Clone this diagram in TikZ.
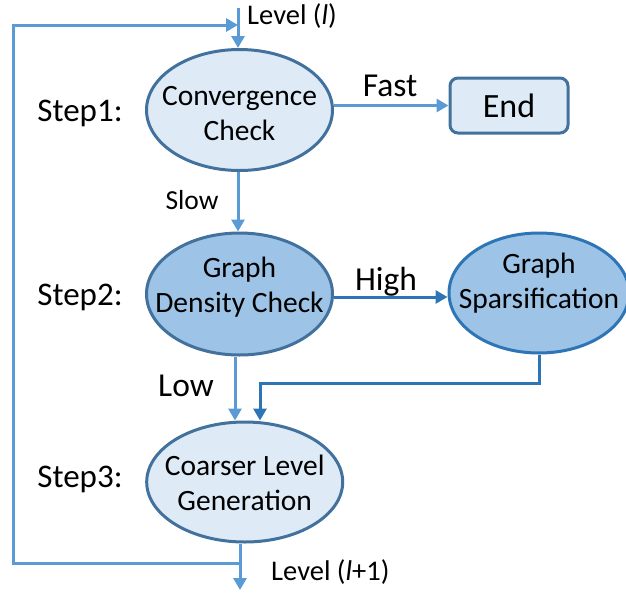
\documentclass[tikz,border=0pt]{standalone}
\usepackage{fontspec}
\setmainfont{Carlito}
\usetikzlibrary{arrows.meta,shapes.geometric}
\definecolor{lightfill}{HTML}{DEEBF7}
\definecolor{midfill}{HTML}{9DC3E6}
\definecolor{edgeblue}{HTML}{41719C}
\definecolor{flowblue}{HTML}{5B9BD5}
\definecolor{deepblue}{HTML}{2E75B6}
\tikzset{
  proc/.style={ellipse, draw=edgeblue, line width=3pt, inner sep=0pt},
  txt/.style={align=center, font=\fontsize{29.5}{35}\selectfont, inner sep=0pt},
  steplbl/.style={font=\fontsize{33}{39}\selectfont, inner sep=0pt},
  edgelbl/.style={font=\fontsize{33.5}{40}\selectfont, inner sep=0pt},
  lvllbl/.style={font=\fontsize{28.5}{34}\selectfont, inner sep=0pt, anchor=west},
  flow/.style={draw=flowblue, line width=3pt, -{Triangle[length=12pt,width=13pt]}},
  deepflow/.style={draw=deepblue, line width=3pt, -{Triangle[length=12pt,width=13pt]}}
}
\begin{document}
\begin{tikzpicture}[x=1pt,y=-1pt]
\useasboundingbox (0,0) rectangle (626,592);

% process ellipses
\node[proc, fill=lightfill, minimum width=186pt, minimum height=121pt] (conv) at (239.5,110) {};
\node[txt] (convT) at (239.5,114) {Convergence\\Check};

\node[proc, fill=midfill, minimum width=186pt, minimum height=122pt] (dens) at (239.5,294) {};
\node[txt] (densT) at (239.5,287) {Graph\\Density Check};

\node[proc, draw=deepblue, fill=midfill, minimum width=180pt, minimum height=120pt] (spars) at (539,293) {};
\node[txt] (sparsT) at (539,283) {Graph\\Sparsification};

\node[proc, fill=lightfill, minimum width=196pt, minimum height=120pt] (coarse) at (244.7,482) {};
\node[txt] (coarseT) at (244.7,483) {Coarser Level\\Generation};

% terminal box
\node[draw=edgeblue, fill=lightfill, line width=3pt, rounded corners=8pt,
      minimum width=118pt, minimum height=55pt, font=\fontsize{34}{40}\selectfont] (fin) at (509,105.5) {End};

% step labels
\node[steplbl] (s1) at (80,113) {Step1:};
\node[steplbl] (s2) at (80,297) {Step2:};
\node[steplbl] (s3) at (80,479) {Step3:};

% loop-back and level connectors
\coordinate (topin) at (238,8);
\coordinate (loopTR) at (238,25);
\coordinate (loopTL) at (13,25);
\coordinate (loopBL) at (13,563);
\coordinate (loopBR) at (240,563);
\coordinate (outEnd) at (240,590);
\coordinate (kink) at (260,383);
\coordinate (lowx) at (235,0);
\coordinate (highy) at (0,297);

\draw[flow] (topin) -- (conv.north -| topin);
\draw[flow] (loopBR) -- (loopBL) -- (loopTL) -- (loopTR);
\draw[flow] (coarse.south -| outEnd) -- (outEnd);

\node[lvllbl] (lvlIn) at (247,16) {Level (\textit{l})};
\node[lvllbl] (lvlOut) at (271,572) {Level (\textit{l}+1)};

% decision branches
\draw[flow] (conv.east |- fin.west) -- (fin.west);
\node[edgelbl] (fast) at (390,86) {Fast};

\draw[flow] (conv.south -| topin) -- (dens.north -| topin);
\node[font=\fontsize{27.5}{33}\selectfont, inner sep=0pt] (slow) at (192,200) {Slow};

\draw[deepflow] (dens.east |- highy) -- (spars.west |- highy);
\node[edgelbl] (high) at (386,282) {High};

\draw[flow] (dens.south -| lowx) -- (coarse.north -| lowx);
\node[edgelbl] (low) at (186,386) {Low};

\draw[deepflow] (spars.south) |- (kink) -- (kink |- coarse.north);
\end{tikzpicture}
\end{document}
